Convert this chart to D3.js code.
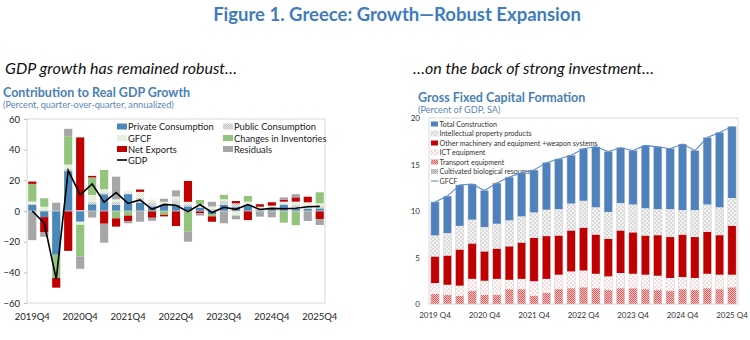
<!DOCTYPE html>
<html>
<head>
<meta charset="utf-8">
<script src="https://cdn.jsdelivr.net/npm/d3@7"></script>
<style>
  body { margin: 0; background: #fff; }
  svg text { font-family: Lato, "Liberation Sans", sans-serif; }
</style>
</head>
<body>
<div id="chart"></div>
<script>
// quarters shown on both charts
var quarters = ["2019Q4","2020Q1","2020Q2","2020Q3","2020Q4","2021Q1","2021Q2","2021Q3","2021Q4",
  "2022Q1","2022Q2","2022Q3","2022Q4","2023Q1","2023Q2","2023Q3","2023Q4",
  "2024Q1","2024Q2","2024Q3","2024Q4","2025Q1","2025Q2","2025Q3","2025Q4"];
var tickQuarters = ["2019Q4","2020Q4","2021Q4","2022Q4","2023Q4","2024Q4","2025Q4"];

// left chart: contribution to real GDP growth (pp, q/q annualized)
var privCons  = [3.9,-4,-28.5,26,-7,4.4,10.9,3.9,11,5.5,3,4,4,3,2,-2,4,2.5,3.9,0.5,1.5,3.9,1.5,1.5,1.7];
var pubCons   = [0.8,0.5,0,1.5,0.5,1.5,1,2,0.5,3,2.5,0.5,3,1.5,1,1.5,2.5,2.5,1,1.5,1,1,2.5,2,1.5];
var gfcfContr = [1.5,2.3,0,2.8,-2,4.5,2.3,1.7,1.5,4,2,1.5,2.5,1.5,1.5,1.5,1.2,-3,1.2,0.8,1,1.2,2.1,2.2,1.8];
var invent    = [11.5,5.5,-15.2,18.5,-20.7,11.5,12.6,-4.8,-3,0,0,-2.5,0,-13.5,2.7,-1.5,2.8,0,3.7,0,0,-7.6,-9.2,0,7.2];
var netExp    = [1.5,-10,-6.3,-26,47.5,1,-8.3,-5.4,-3.5,1.5,-4.4,-1,-9.8,13.6,-1.5,-3.5,0,1.5,-5.9,1.6,2.2,1.3,2.8,3.6,-5.2];
var resid     = [-19,-2.8,5.4,4.8,-8,-4.3,-12.4,14.8,-1.5,-7,-2,2,4,-6.5,-1.5,3,-8,-2.4,0,-3.7,-4.1,1.5,2.1,-6.5,-3.9];
var gdp       = [0,-8,-44.5,26.5,10.5,17.6,5.8,12,5,7.2,1.1,4.3,3.7,-0.4,4.2,-1,2.4,1.1,4.2,1,1.7,1.5,1.8,2.8,3];

// right chart: gross fixed capital formation (% of GDP)
var transport  = [1.1,1.0,0.9,1.4,1.0,1.0,1.6,1.6,0.9,1.2,1.6,1.7,1.8,1.7,1.5,1.7,1.7,1.6,1.5,1.4,1.6,1.5,1.7,1.6,1.8];
var ict        = [1.15,1.07,1.07,1.3,1.5,1.7,1.0,1.1,1.55,1.5,1.55,1.8,1.8,1.55,1.47,1.63,1.55,1.55,1.54,1.4,1.3,1.3,1.55,1.55,1.35];
var otherMach  = [2.85,3.13,3.88,3.8,3.15,3.25,3.6,3.9,4.65,4.6,4.2,4.4,4.6,4.2,4.03,4.57,4.45,4.2,4.36,4.4,4.55,4.4,4.5,4.25,5.25];
var intProp    = [2.23,2.38,2.5,2.52,2.58,2.63,2.75,2.77,2.7,2.79,2.8,2.85,2.85,2.9,2.85,2.91,2.95,2.9,2.75,2.95,2.6,2.85,2.9,2.95,2.95];
var cultivated = [0.05,0.05,0.05,0.05,0.05,0.05,0.05,0.05,0.05,0.05,0.05,0.05,0.05,0.05,0.05,0.05,0.05,0.05,0.05,0.05,0.05,0.05,0.05,0.05,0.05];
var construct  = [3.6,3.97,4.4,3.83,3.92,4.37,4.65,4.68,4.55,5.06,5.4,5.2,5.6,6.5,6.5,5.94,5.8,6.75,6.7,6.5,7.1,6.4,7.2,8.05,7.7];
var gfcfTotal  = [10.97,11.6,12.8,12.9,12.2,13.0,13.65,14.1,14.4,15.2,15.6,16.0,16.7,16.9,16.4,16.8,16.5,17.05,16.9,16.7,17.2,16.5,17.9,18.45,19.1];

var W = 750, H = 340;
var svg = d3.select("#chart").append("svg")
    .attr("width", W).attr("height", H);

// patterns
var defs = svg.append("defs");
function checker(id, a, b, s) {
  var p = defs.append("pattern").attr("id", id)
    .attr("patternUnits", "userSpaceOnUse").attr("width", s * 2).attr("height", s * 2);
  p.append("rect").attr("width", s * 2).attr("height", s * 2).attr("fill", a);
  p.append("rect").attr("width", s).attr("height", s).attr("fill", b);
  p.append("rect").attr("x", s).attr("y", s).attr("width", s).attr("height", s).attr("fill", b);
}
checker("pubPat", "#e4e4e4", "#c4c4c4", 1);
checker("gfcfPat", "#f4f9f0", "#d8e9cc", 1);
checker("ipPat", "#f3f3f3", "#d9d9d9", 2);
checker("ictPat", "#ffffff", "#f6dcdc", 2);
checker("trPat", "#f6c6c6", "#dc5c5c", 1);
checker("cultPat", "#e0e0e0", "#a6a6a6", 1);

var titleBlue = "#3f7cbd";

svg.append("text").attr("x", 397).attr("y", 21).attr("text-anchor", "middle")
  .style("font-size", "18.5px").style("font-weight", "bold").attr("fill", titleBlue)
  .text("Figure 1. Greece: Growth\u2014Robust Expansion");

svg.append("text").attr("x", 5).attr("y", 74)
  .style("font-size", "16px").style("font-style", "italic").attr("fill", "#111")
  .text("GDP growth has remained robust\u2026");
svg.append("text").attr("x", 413).attr("y", 74)
  .style("font-size", "16px").style("font-style", "italic").attr("fill", "#111")
  .text("\u2026on the back of strong investment\u2026");

// ---------- left chart ----------
svg.append("text").attr("x", 3).attr("y", 97)
  .style("font-size", "12.5px").style("font-weight", "bold").attr("fill", "#4a80b4")
  .text("Contribution to Real GDP Growth");
svg.append("text").attr("x", 3).attr("y", 108)
  .style("font-size", "9.2px").attr("fill", "#5b86b8")
  .text("(Percent, quarter-over-quarter, annualized)");

var xL = d3.scaleBand().domain(quarters).range([27, 325])
  .paddingInner(0.32).paddingOuter(0.1);
var yL = d3.scaleLinear().domain([-60, 60]).range([303, 119]);

svg.append("rect").attr("x", 27).attr("y", 119).attr("width", 298).attr("height", 184)
  .attr("fill", "none").attr("stroke", "#d9d9d9");

var leftKeys = ["priv", "pub", "gfcf", "inv", "nx", "res"];
var leftFill = {priv: "#4a88b9", pub: "url(#pubPat)", gfcf: "url(#gfcfPat)",
  inv: "#93c47d", nx: "#c00000", res: "#a6a6a6"};
var leftRows = quarters.map(function(q, i) {
  return {q: q, priv: privCons[i], pub: pubCons[i], gfcf: gfcfContr[i],
    inv: invent[i], nx: netExp[i], res: resid[i]};
});
var leftStack = d3.stack().keys(leftKeys).offset(d3.stackOffsetDiverging)(leftRows);

svg.append("g").selectAll("g").data(leftStack).enter().append("g")
    .attr("fill", function(d) { return leftFill[d.key]; })
  .selectAll("rect").data(function(d) { return d; }).enter().append("rect")
    .attr("x", function(d) { return xL(d.data.q); })
    .attr("width", xL.bandwidth())
    .attr("y", function(d) { return yL(Math.max(d[0], d[1])); })
    .attr("height", function(d) { return Math.abs(yL(d[0]) - yL(d[1])); });

// zero line
svg.append("line").attr("x1", 27).attr("x2", 325).attr("y1", yL(0)).attr("y2", yL(0))
  .attr("stroke", "#d9d9d9").attr("stroke-width", 0.8);

svg.append("path").datum(gdp)
  .attr("fill", "none").attr("stroke", "#000").attr("stroke-width", 1.6)
  .attr("d", d3.line()
    .x(function(d, i) { return xL(quarters[i]) + xL.bandwidth() / 2; })
    .y(function(d) { return yL(d); }));

var axL = svg.append("g").attr("transform", "translate(27,0)")
  .call(d3.axisLeft(yL).tickValues([-60,-40,-20,0,20,40,60]).tickSize(3).tickPadding(4));
axL.select(".domain").remove();
axL.selectAll("line").attr("stroke", "#bfbfbf");
axL.selectAll("text").style("font-size", "9.5px").attr("fill", "#222");

var axLx = svg.append("g").attr("transform", "translate(0,303)")
  .call(d3.axisBottom(xL).tickValues(tickQuarters).tickSize(0).tickPadding(10));
axLx.select(".domain").remove();
axLx.selectAll("text").style("font-size", "9.5px").attr("fill", "#222");

// left legend
var legL = [
  {k: "priv", t: "Private Consumption", x: 117, y: 126.5},
  {k: "pub", t: "Public Consumption", x: 223, y: 126.5},
  {k: "gfcf", t: "GFCF", x: 117, y: 138},
  {k: "inv", t: "Changes in Inventories", x: 223, y: 138},
  {k: "nx", t: "Net Exports", x: 117, y: 149},
  {k: "res", t: "Residuals", x: 223, y: 149}
];
var lg = svg.append("g");
legL.forEach(function(d) {
  lg.append("rect").attr("x", d.x).attr("y", d.y - 3).attr("width", 10).attr("height", 6)
    .attr("fill", leftFill[d.k]);
  lg.append("text").attr("x", d.x + 11).attr("y", d.y + 3.5)
    .style("font-size", "9.3px").attr("fill", "#222").text(d.t);
});
lg.append("line").attr("x1", 117).attr("x2", 127).attr("y1", 160).attr("y2", 160)
  .attr("stroke", "#000").attr("stroke-width", 1.6);
lg.append("text").attr("x", 128).attr("y", 163.5)
  .style("font-size", "9.3px").attr("fill", "#222").text("GDP");

// ---------- right chart ----------
svg.append("text").attr("x", 418).attr("y", 102)
  .style("font-size", "12.5px").style("font-weight", "bold").attr("fill", "#4a80b4")
  .text("Gross Fixed Capital Formation");
svg.append("text").attr("x", 418).attr("y", 113)
  .style("font-size", "9.2px").attr("fill", "#5b86b8")
  .text("(Percent of GDP, SA)");

var xR = d3.scaleBand().domain(quarters).range([429, 738])
  .paddingInner(0.33).paddingOuter(0.15);
var yR = d3.scaleLinear().domain([0, 20]).range([304, 118]);

svg.append("rect").attr("x", 429).attr("y", 118).attr("width", 309).attr("height", 186)
  .attr("fill", "none").attr("stroke", "#d9d9d9");

var rightKeys = ["tr", "ict", "oth", "cult", "ip", "con"];
var rightFill = {tr: "url(#trPat)", ict: "url(#ictPat)", oth: "#c00000",
  cult: "url(#cultPat)", ip: "url(#ipPat)", con: "#4f81bd"};
var rightRows = quarters.map(function(q, i) {
  return {q: q, tr: transport[i], ict: ict[i], oth: otherMach[i],
    cult: cultivated[i], ip: intProp[i], con: construct[i]};
});
var rightStack = d3.stack().keys(rightKeys)(rightRows);

// legend first: bars are drawn over it
var legR = [
  {k: "con", t: "Total Construction"},
  {k: "ip", t: "Intellectual property products"},
  {k: "oth", t: "Other machinery and equipment +weapon systems"},
  {k: "ict", t: "ICT equipment"},
  {k: "tr", t: "Transport equipment"},
  {k: "cult", t: "Cultivated biological resources"}
];
var rg = svg.append("g");
legR.forEach(function(d, i) {
  var yy = 124 + i * 9.5;
  rg.append("rect").attr("x", 431).attr("y", yy - 2.5).attr("width", 7).attr("height", 5)
    .attr("fill", rightFill[d.k])
    .attr("stroke", d.k === "ict" || d.k === "ip" ? "#d0d0d0" : "none").attr("stroke-width", 0.5);
  rg.append("text").attr("x", 439.5).attr("y", yy + 2.6)
    .style("font-size", "7.1px").attr("fill", "#333").text(d.t);
});
rg.append("line").attr("x1", 431).attr("x2", 438).attr("y1", 181).attr("y2", 181)
  .attr("stroke", "#4f81bd").attr("stroke-width", 1);
rg.append("text").attr("x", 439.5).attr("y", 183.6)
  .style("font-size", "7.1px").attr("fill", "#333").text("GFCF");

svg.append("g").selectAll("g").data(rightStack).enter().append("g")
    .attr("fill", function(d) { return rightFill[d.key]; })
  .selectAll("rect").data(function(d) { return d; }).enter().append("rect")
    .attr("x", function(d) { return xR(d.data.q); })
    .attr("width", xR.bandwidth())
    .attr("y", function(d) { return yR(d[1]); })
    .attr("height", function(d) { return yR(d[0]) - yR(d[1]); });

// thin bar outlines
svg.append("g").selectAll("rect").data(quarters).enter().append("rect")
  .attr("x", function(q) { return xR(q); })
  .attr("width", xR.bandwidth())
  .attr("y", function(q, i) { return yR(gfcfTotal[i]); })
  .attr("height", function(q, i) { return yR(0) - yR(gfcfTotal[i]); })
  .attr("fill", "none").attr("stroke", "#cfcfcf").attr("stroke-width", 0.5);

svg.append("path").datum(gfcfTotal)
  .attr("fill", "none").attr("stroke", "#5b8cc8").attr("stroke-width", 1.1)
  .attr("d", d3.line()
    .x(function(d, i) { return xR(quarters[i]) + xR.bandwidth() / 2; })
    .y(function(d) { return yR(d); }));

var axR = svg.append("g").attr("transform", "translate(429,0)")
  .call(d3.axisLeft(yR).tickValues([0,5,10,15,20]).tickSize(0).tickPadding(9));
axR.select(".domain").remove();
axR.selectAll("text").style("font-size", "8px").attr("fill", "#333");

var axRx = svg.append("g").attr("transform", "translate(0,304)")
  .call(d3.axisBottom(xR).tickValues(tickQuarters).tickSize(0).tickPadding(8)
    .tickFormat(function(q) { return q.replace("Q", " Q"); }));
axRx.select(".domain").remove();
axRx.selectAll("text").style("font-size", "8px").attr("fill", "#333");
</script>
</body>
</html>
